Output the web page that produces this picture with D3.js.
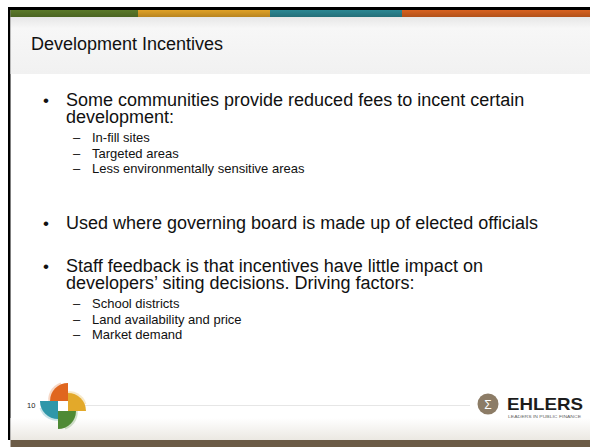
<!DOCTYPE html>
<html>
<head>
  <meta charset="utf-8">
  <script src="https://d3js.org/d3.v7.min.js"></script>
  <style>
    body { margin: 0; background: #fff; }
    svg { display: block; font-family: "Liberation Sans", Arial, sans-serif; }
  </style>
</head>
<body>
  <svg id="slide"></svg>
  <script>

    var width = 590, height = 447;

    // slide content
    var title = "Development Incentives";
    var bullets = [
      {lines: ["Some communities provide reduced fees to incent certain", "development:"],
       subs: ["In-fill sites", "Targeted areas", "Less environmentally sensitive areas"]},
      {lines: ["Used where governing board is made up of elected officials"], subs: []},
      {lines: ["Staff feedback is that incentives have little impact on", "developers\u2019 siting decisions. Driving factors:"],
       subs: ["School districts", "Land availability and price", "Market demand"]}
    ];
    var bulletTops = [106, 229, 272];
    var barColors = ["#5b7a2a", "#e0a126", "#2c8793", "#d8621f"];
    var barStarts = [10.5, 138, 270, 402, 590];
    var petalColors = ["#e0661f", "#e3a92a", "#4f8a35", "#2f97a9"];
    var pageNumber = "10";

    var svg = d3.select("#slide")
        .attr("width", width)
        .attr("height", height);

    var defs = svg.append("defs");
    var hg = defs.append("linearGradient").attr("id", "hdr").attr("x1", 0).attr("y1", 0).attr("x2", 0).attr("y2", 1);
    hg.append("stop").attr("offset", 0).attr("stop-color", "#e6e6e6");
    hg.append("stop").attr("offset", 0.2).attr("stop-color", "#f7f7f7");
    hg.append("stop").attr("offset", 1).attr("stop-color", "#f1f1f1");
    var fg = defs.append("linearGradient").attr("id", "ftr").attr("x1", 0).attr("y1", 0).attr("x2", 0).attr("y2", 1);
    fg.append("stop").attr("offset", 0).attr("stop-color", "#ffffff");
    fg.append("stop").attr("offset", 1).attr("stop-color", "#ebe8e2");
    var bg = defs.append("linearGradient").attr("id", "bar").attr("x1", 0).attr("y1", 0).attr("x2", 0).attr("y2", 1);
    bg.append("stop").attr("offset", 0).attr("stop-color", "#000").attr("stop-opacity", 0);
    bg.append("stop").attr("offset", 1).attr("stop-color", "#000").attr("stop-opacity", 0.18);

    // black frame (top and left edges)
    svg.append("rect").attr("x", 8).attr("y", 7).attr("width", width - 8).attr("height", 3).attr("fill", "#000");
    svg.append("rect").attr("x", 8).attr("y", 7).attr("width", 2.5).attr("height", 433).attr("fill", "#000");

    // header band
    svg.append("rect").attr("x", 10.5).attr("y", 17).attr("width", width - 10.5).attr("height", 57).attr("fill", "url(#hdr)");

    // colour bar
    svg.append("g").selectAll("rect")
      .data(barColors)
      .enter().append("rect")
        .attr("x", function(d, i) { return barStarts[i]; })
        .attr("y", 10)
        .attr("width", function(d, i) { return barStarts[i + 1] - barStarts[i] + 0.5; })
        .attr("height", 7)
        .attr("fill", function(d) { return d; });
    svg.append("rect").attr("x", 10.5).attr("y", 10).attr("width", width).attr("height", 7).attr("fill", "url(#bar)");

    svg.append("text")
        .attr("x", 31)
        .attr("y", 50)
        .attr("font-size", 18)
        .attr("fill", "#111")
        .text(title);

    // bullets
    var body = svg.append("g").attr("fill", "#111");
    var lineH = 16.5, subH = 15.7;
    bullets.forEach(function(b, i) {
      var y = bulletTops[i];
      body.append("text").attr("x", 43).attr("y", y).attr("font-size", 17).text("\u2022");
      b.lines.forEach(function(l, j) {
        body.append("text").attr("x", 66).attr("y", y + j * lineH).attr("font-size", 18).text(l);
      });
      var sy = y + (b.lines.length - 1) * lineH + 19.5;
      b.subs.forEach(function(s, k) {
        body.append("text").attr("x", 73).attr("y", sy + k * subH).attr("font-size", 13).text("\u2013");
        body.append("text").attr("x", 92).attr("y", sy + k * subH).attr("font-size", 13).text(s);
      });
    });

    // footer
    svg.append("rect").attr("x", 10.5).attr("y", 418).attr("width", width).attr("height", 22).attr("fill", "url(#ftr)");
    svg.append("rect").attr("x", 10.5).attr("y", 440).attr("width", width).attr("height", 7).attr("fill", "#6b5b46");
    svg.append("line").attr("x1", 85).attr("x2", 470).attr("y1", 405.5).attr("y2", 405.5)
        .attr("stroke", "#e6e6e6").attr("stroke-width", 1);

    svg.append("text").attr("x", 27).attr("y", 408).attr("font-size", 7.5).attr("fill", "#222").text(pageNumber);

    // pinwheel logo: four quarter discs hinged on the corners of a white square
    var cx = 63, cy = 406, h = 5, r = 18;
    var corners = [[h, -h], [h, h], [-h, h], [-h, -h]];
    var logo = svg.append("g");
    [-18, 0].forEach(function(rot, pass) {
      var g = logo.append("g")
          .attr("transform", "translate(" + cx + "," + cy + ") rotate(" + rot + ")")
          .attr("opacity", pass === 0 ? 0.25 : 1);
      g.selectAll("path")
        .data(petalColors)
        .enter().append("path")
          .attr("transform", function(d, i) { return "translate(" + corners[i][0] + "," + corners[i][1] + ")"; })
          .attr("d", function(d, i) {
            var start = -Math.PI / 2 + i * Math.PI / 2;
            return d3.arc()({innerRadius: 0, outerRadius: r, startAngle: start, endAngle: start + Math.PI / 2});
          })
          .attr("fill", function(d) { return d; });
    });
    logo.append("rect").attr("x", cx - h).attr("y", cy - h).attr("width", 2 * h).attr("height", 2 * h).attr("fill", "#fff");

    // EHLERS mark
    svg.append("circle").attr("cx", 488).attr("cy", 404).attr("r", 10.5).attr("fill", "#8c7c66");
    svg.append("text").attr("x", 488).attr("y", 408.5).attr("text-anchor", "middle")
        .attr("font-size", 12).attr("fill", "#fff").text("\u03A3");
    svg.append("text").attr("x", 507).attr("y", 410).attr("font-size", 17).attr("font-weight", "bold")
        .attr("fill", "#1c1c1c").attr("textLength", 76).attr("lengthAdjust", "spacingAndGlyphs").text("EHLERS");
    svg.append("text").attr("x", 508).attr("y", 418).attr("font-size", 4).attr("fill", "#666")
        .attr("textLength", 73).attr("lengthAdjust", "spacingAndGlyphs").text("LEADERS IN PUBLIC FINANCE");

  </script>
</body>
</html>
